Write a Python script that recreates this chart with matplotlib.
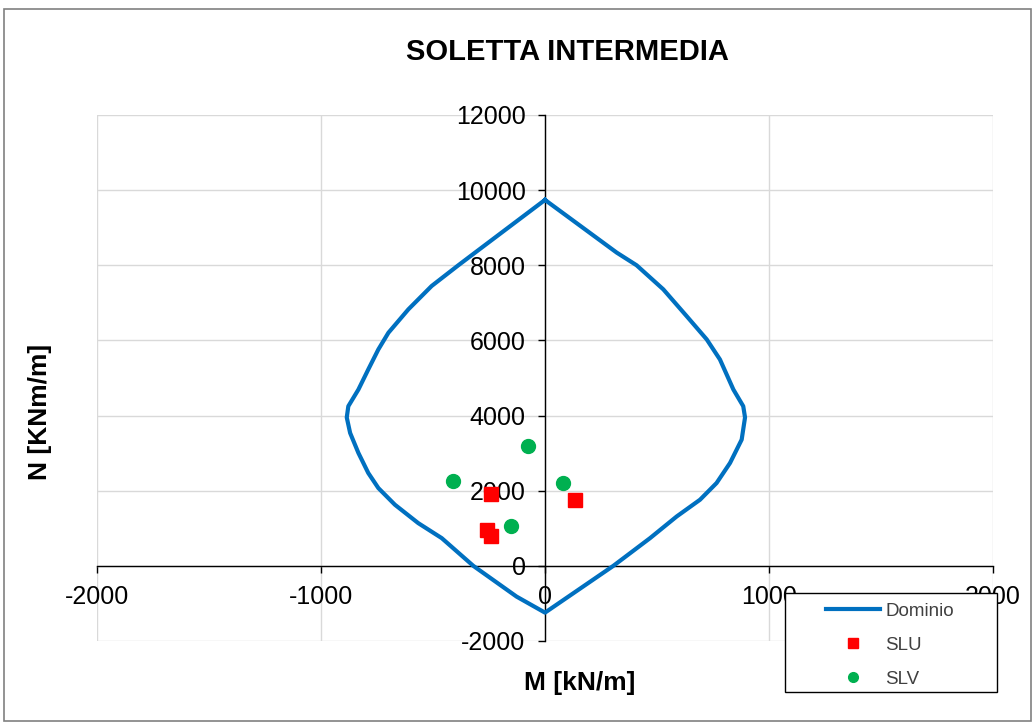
import numpy as np
import matplotlib
matplotlib.use("Agg")
import matplotlib.pyplot as plt
from matplotlib.patches import Rectangle

plt.rcParams['font.family'] = ['Liberation Sans', 'DejaVu Sans']
plt.rcParams['axes.unicode_minus'] = False

# interaction domain (M, N), traced clockwise from the top
dom_m = [0, 320, 409, 528, 632, 722, 781, 841, 885, 893, 878, 826, 766, 692, 588, 469, 305, 0,
         -127, -320, -461, -566, -670, -744, -789, -833, -870, -885, -878, -833, -789, -744,
         -699, -610, -506, -387, -312, 0]
dom_n = [9740, 8338, 8000, 7360, 6649, 6027, 5493, 4693, 4249, 3950, 3360, 2738, 2205, 1760,
         1315, 738, 0, -1245,
         -818, 0, 738, 1138, 1627, 2071, 2472, 3005, 3538, 3950, 4249, 4693, 5227, 5760,
         6205, 6827, 7449, 8000, 8338, 9740]

# load combinations
slu_m = [-243, -260, -243, 134]
slu_n = [1911, 960, 800, 1760]
slv_m = [-75, -409, 82, -152]
slv_n = [3181, 2248, 2205, 1067]

W, H = 1032, 722
fig = plt.figure(figsize=(W/100, H/100), dpi=100)
ax = fig.add_axes([97/W, 81/H, 896/W, 526/H])

# outer chart border
fig.patches.append(Rectangle((4/W, 1/H), 1 - 5/W, 1 - 10/H, transform=fig.transFigure,
                             fill=False, edgecolor='#808080', lw=1.2))

l1, = ax.plot(dom_m, dom_n, color='#0070C0', lw=3, label='Dominio', zorder=3,
              solid_joinstyle='round')
l2, = ax.plot(slu_m, slu_n, 's', color='#FF0000', ms=10, label='SLU', zorder=4)
l3, = ax.plot(slv_m, slv_n, 'o', color='#00B050', ms=10, label='SLV', zorder=4)

ax.set_xlim(-2000, 2000)
ax.set_ylim(-2000, 12000)
ax.set_xticks([-2000, -1000, 0, 1000, 2000])
ax.set_yticks(np.arange(-2000, 12001, 2000))
ax.grid(True, color='#d9d9d9', lw=1)
ax.set_axisbelow(True)

ax.spines['left'].set_position(('data', 0))
ax.spines['bottom'].set_position(('data', 0))
ax.spines['top'].set_visible(False)
ax.spines['right'].set_visible(False)
for s in ('left', 'bottom'):
    ax.spines[s].set_color('black')
    ax.spines[s].set_linewidth(1)
    ax.spines[s].set_zorder(2)

ax.tick_params(axis='both', direction='out', length=5, width=1, labelsize=18, pad=9)

fig.text(567/W, 1 - 52/H, 'SOLETTA INTERMEDIA', ha='center', va='center',
         fontsize=21, fontweight='bold')
fig.text(580/W, 1 - 683/H, 'M [kN/m]', ha='center', va='center', fontsize=19, fontweight='bold')
fig.text(40/W, 1 - 412/H, 'N [KNm/m]', ha='center', va='center', rotation=90,
         fontsize=19, fontweight='bold')

# legend box (white, covers tick labels like in the original)
fig.patches.append(Rectangle((785/W, 1 - 692/H), 212/W, 99/H, transform=fig.transFigure,
                             facecolor='white', edgecolor='black', lw=1, zorder=4))
leg = fig.legend(handles=[l1, l2, l3], loc='center left', bbox_to_anchor=(826/W, 1 - 645/H),
                 borderaxespad=0, borderpad=0, frameon=False, fontsize=13.5,
                 handlelength=2.9, markerscale=0.7, labelspacing=0.9, handletextpad=0.25)
leg.set_zorder(5)
for t in leg.get_texts():
    t.set_color('#404040')

fig.savefig('out.png', dpi=100)
